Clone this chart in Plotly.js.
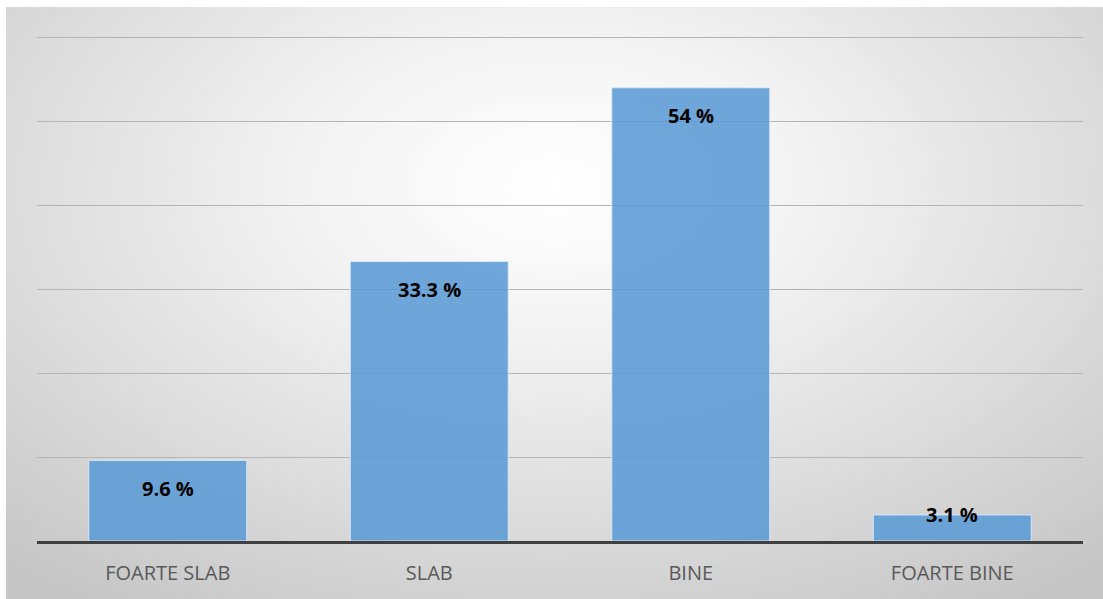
<!DOCTYPE html>
<html>
<head>
<meta charset="utf-8">
<script src="https://cdn.plot.ly/plotly-3.0.1.min.js"></script>
<style>
  html, body { margin: 0; padding: 0; background: #ffffff; width: 1103px; height: 599px; overflow: hidden; }
  #frame {
    position: absolute; left: 6px; top: 7px; width: 1097px; height: 592px;
    background: radial-gradient(ellipse 75% 85% at 50% 30%, #ffffff 0%, #f3f3f3 30%, #dddddd 65%, #c6c6c6 100%);
  }
  #chart { width: 1097px; height: 592px; }
</style>
</head>
<body>
<div id="frame"><div id="chart"></div></div>
<script>
const categories = ["FOARTE SLAB", "SLAB", "BINE", "FOARTE BINE"];
const values = [9.6, 33.3, 54, 3.1];
const labels = ["9.6 %", "33.3 %", "54 %", "3.1 %"];

const trace = {
  type: "bar",
  x: categories,
  y: values,
  marker: { color: "rgba(91,155,213,0.88)", line: { color: "rgba(220,235,250,0.9)", width: 1 } },
  hoverinfo: "none"
};

const annotations = categories.map((c, i) => ({
  x: c,
  y: values[i] > 6 ? values[i] - 3.3 : values[i],
  text: "<b>" + labels[i] + "</b>",
  showarrow: false,
  yanchor: "middle",
  xanchor: "center",
  font: { family: "Open Sans, sans-serif", size: 20, color: "#000000" }
}));

const layout = {
  width: 1097, height: 592,
  margin: { l: 31, r: 20, t: 22, b: 58 },
  paper_bgcolor: "rgba(0,0,0,0)",
  plot_bgcolor: "rgba(0,0,0,0)",
  bargap: 0.396,
  showlegend: false,
  xaxis: {
    type: "category",
    showline: true, linecolor: "#404040", linewidth: 3,
    showgrid: false, ticks: "",
    tickfont: { family: "Open Sans, sans-serif", size: 20, color: "#595959" },
    ticklabelstandoff: 12
  },
  yaxis: {
    range: [0, 61], dtick: 10,
    showticklabels: false, showgrid: true, gridcolor: "#b5b5b5", gridwidth: 1,
    zeroline: false, ticks: ""
  },
  annotations: annotations
};

Plotly.newPlot("chart", [trace], layout, { displayModeBar: false, staticPlot: true });
</script>
</body>
</html>
